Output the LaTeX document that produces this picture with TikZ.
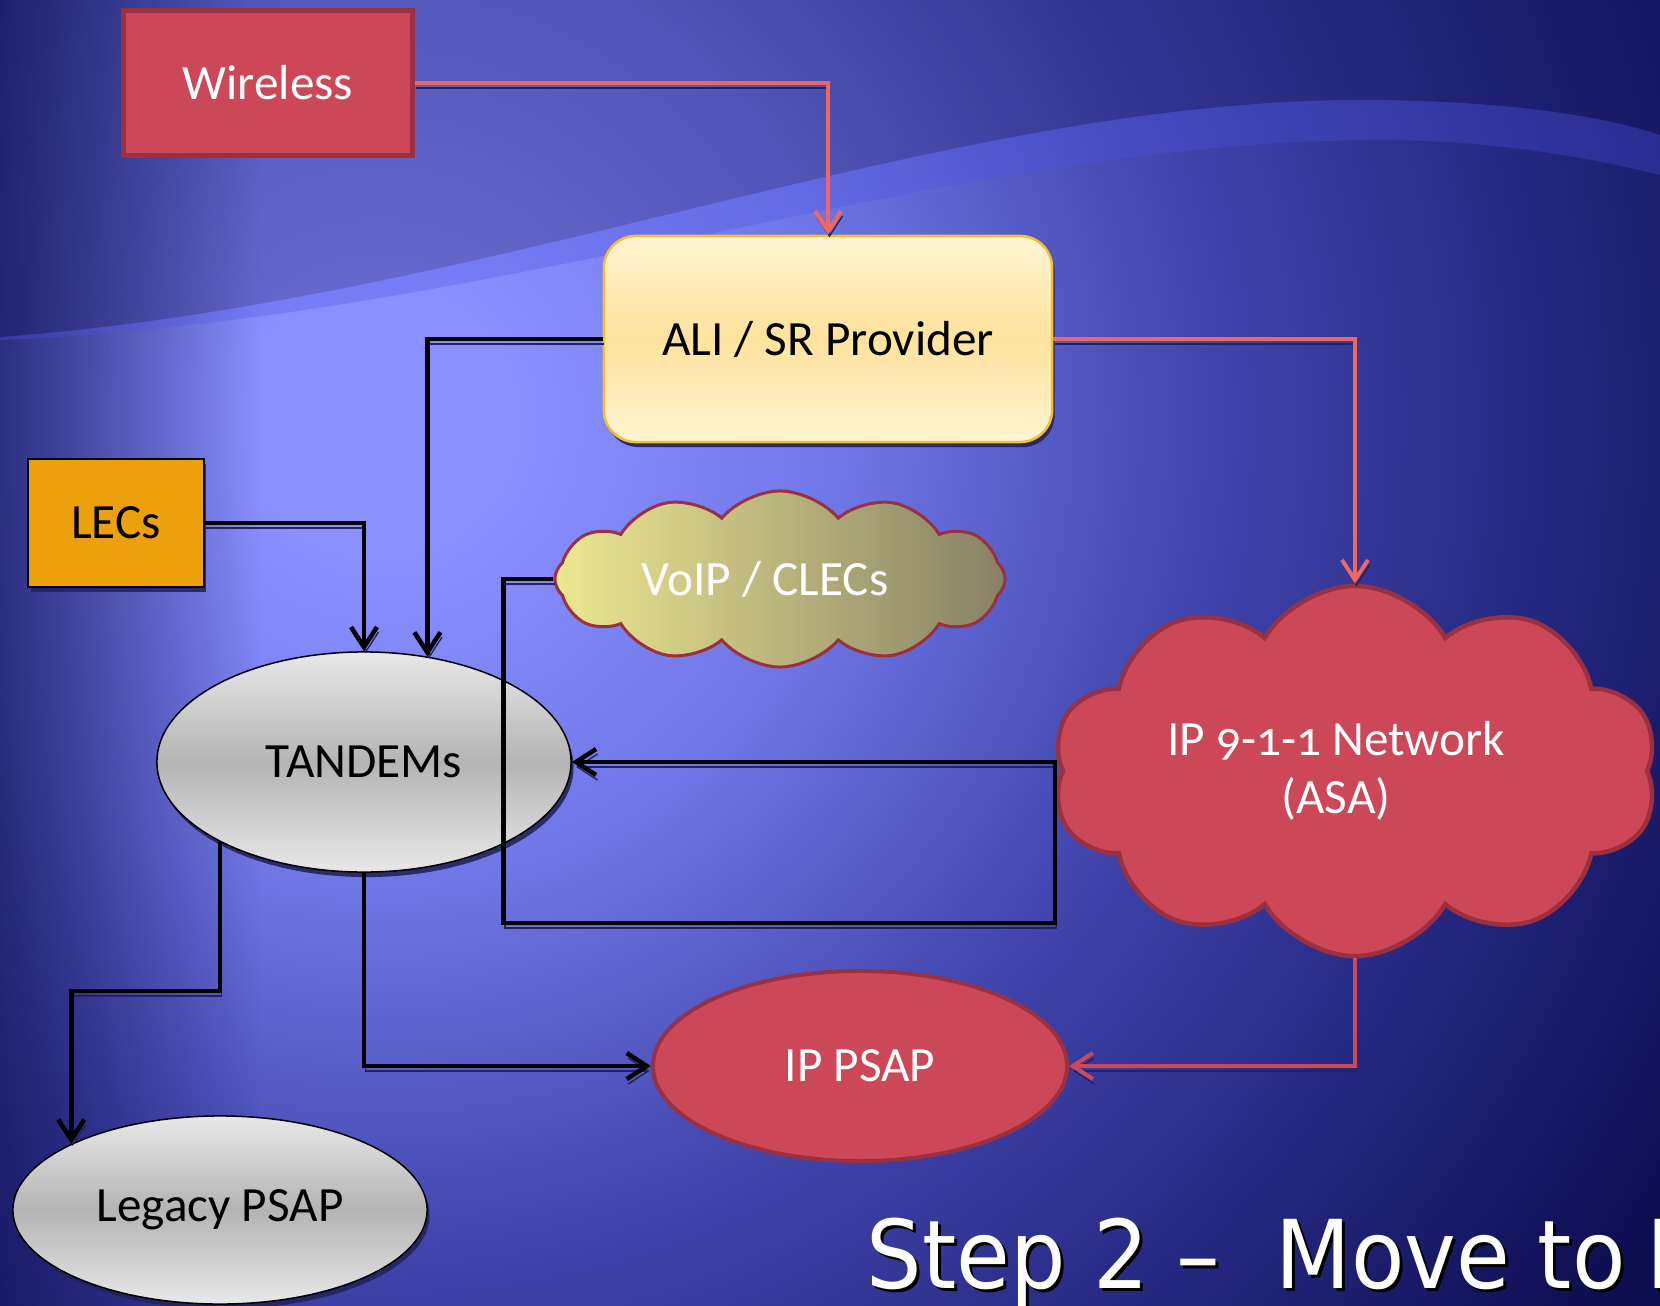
\documentclass[tikz,border=0pt]{standalone}
\usepackage{fontspec}
\setmainfont{Carlito}
\newfontfamily\titlefont[FakeStretch=0.92]{DejaVu Sans}
\usetikzlibrary{shapes.geometric, shapes.symbols, arrows.meta, shadows, fadings}

\definecolor{bglight}{HTML}{8A90FF}
\definecolor{bgsoft}{HTML}{6E75E4}
\definecolor{bgmid}{HTML}{4246AE}
\definecolor{bgdeep}{HTML}{262982}
\definecolor{bgdark}{HTML}{0E0E52}
\definecolor{bgband}{HTML}{4C54E6}
\definecolor{crimson}{HTML}{CC4858}
\definecolor{crimsonline}{HTML}{9A3040}
\definecolor{salmon}{HTML}{F26660}
\definecolor{alitop}{HTML}{FFF4D4}
\definecolor{alimid}{HTML}{FFE29C}
\definecolor{aliline}{HTML}{F7BE30}
\definecolor{lecorange}{HTML}{ECA00C}
\definecolor{grayhi}{HTML}{E8E8E8}
\definecolor{graymid}{HTML}{B4B4B4}
\definecolor{voipleft}{HTML}{ECE890}
\definecolor{voipright}{HTML}{878066}
\definecolor{lineshadow}{HTML}{23235E}

\pgfdeclareradialshading{bgglow}{\pgfpoint{0bp}{0bp}}{color(0bp)=(bglight); color(2bp)=(bglight); color(7bp)=(bgsoft); color(12bp)=(bgmid); color(17bp)=(bgdeep); color(22bp)=(bgdark); color(50bp)=(bgdark)}

\tikzset{
        txt/.style={font=\fontsize{14}{16.5}\selectfont, inner sep=0pt},
        shadowed/.style={drop shadow={shadow xshift=0.025cm, shadow yshift=-0.05cm, fill=lineshadow, opacity=0.9}},
        grayball/.style={txt, ellipse, top color=grayhi, bottom color=grayhi, middle color=graymid, draw=black, line width=0.015cm, minimum width=4.14cm, shadowed},
        redball/.style={txt, fill=crimson, draw=crimsonline, text=white},
        blk/.style={draw=black, line width=0.045cm, -{Straight Barb[length=0.2cm,width=0.26cm]},
                preaction={draw=lineshadow, transform canvas={xshift=0.015cm, yshift=-0.05cm}}},
        redl/.style={blk, draw=salmon, line width=0.04cm},
        titletxt/.style={anchor=base west, inner sep=0pt, font=\titlefont\fontsize{27}{30}\selectfont}
}

\begin{document}
\begin{tikzpicture}[x=0.01cm, y=-0.01cm]
        \useasboundingbox (0,0) rectangle (1660,1306);
        \clip (0,0) rectangle (1660,1306);

        % background
        \shade[shading=bgglow] (380,420) circle (1700);
        \fill[bgdark, path fading=east, opacity=0.7] (0,0) rectangle (260,1306);
        \fill[bgdark, opacity=0.3] (0,0) -- (0,337) .. controls (500,300) and (950,95) .. (1380,100)
                .. controls (1520,102) and (1610,118) .. (1660,135) -- (1660,0) -- cycle;
        \fill[bgband, opacity=0.3] (0,337) .. controls (500,300) and (950,95) .. (1380,100)
                .. controls (1520,102) and (1610,118) .. (1660,135) -- (1660,175)
                .. controls (1600,160) and (1500,140) .. (1380,140)
                .. controls (950,140) and (500,320) .. (0,340) -- cycle;

        \node[redball, rectangle, line width=0.05cm, minimum width=2.88cm, minimum height=1.45cm] (wireless) at (268,83) {Wireless};
        \node[txt, rectangle, rounded corners=0.32cm, top color=alitop, bottom color=alitop, middle color=alimid,
                draw=aliline, line width=0.025cm, minimum width=4.48cm, minimum height=2.06cm, shadowed] (ali) at (828,339) {ALI / SR Provider};
        \node[txt, rectangle, fill=lecorange, draw=black, line width=0.02cm, minimum width=1.75cm, minimum height=1.27cm, shadowed] (lecs) at (116,523) {LECs};
        \node[txt, cloud, cloud puffs=12, cloud puff arc=100, cloud ignores aspect, left color=voipleft, right color=voipright,
                draw=crimsonline, line width=0.03cm, minimum width=4.5cm, minimum height=1.76cm, text=white] (voip) at (780,579) {VoIP / CLECs\hspace*{0.3cm}};
        \node[grayball, minimum height=2.2cm] (tandem) at (364,762) {TANDEMs};
        \node[redball, cloud, cloud puffs=10, cloud puff arc=120, cloud ignores aspect, line width=0.045cm,
                minimum width=6.05cm, minimum height=3.7cm, align=center] (ipnet) at (1355,771)
                {IP {\addfontfeature{Numbers=OldStyle}9-1-1} Network\hspace*{0.38cm}\\(ASA)\hspace*{0.38cm}};
        \node[redball, ellipse, line width=0.04cm, minimum width=4.14cm, minimum height=1.9cm] (ippsap) at (860,1066) {IP PSAP};
        \node[grayball, minimum height=1.88cm] (legacy) at (220,1210) {Legacy PSAP};
        \coordinate (loop) at (1055,923);

        \draw[redl] (wireless.east) -| (ali.north);
        \draw[redl] (ali.east) -| (ipnet.north);
        \draw[blk] (ali.west) -| (tandem.59);
        \draw[blk] (lecs.east) -| (tandem.north);
        \draw[blk] (voip.west) -- ++(-50,0) |- (loop) |- (tandem.east);
        \draw[blk] (tandem.south) |- (ippsap.west);
        \draw[blk] (tandem.209) -- ++(0,149) -| (legacy.156);
        \draw[redl, draw=crimson] (ipnet.south) |- (ippsap.east);

        \node[titletxt, text=black] (titleshade) at (869,1291) {Step 2 –\ \ Move to\hspace{0.22em}IP};
        \node[titletxt, text=white] (title) at (866,1288) {Step 2 –\ \ Move to\hspace{0.22em}IP};
\end{tikzpicture}
\end{document}
